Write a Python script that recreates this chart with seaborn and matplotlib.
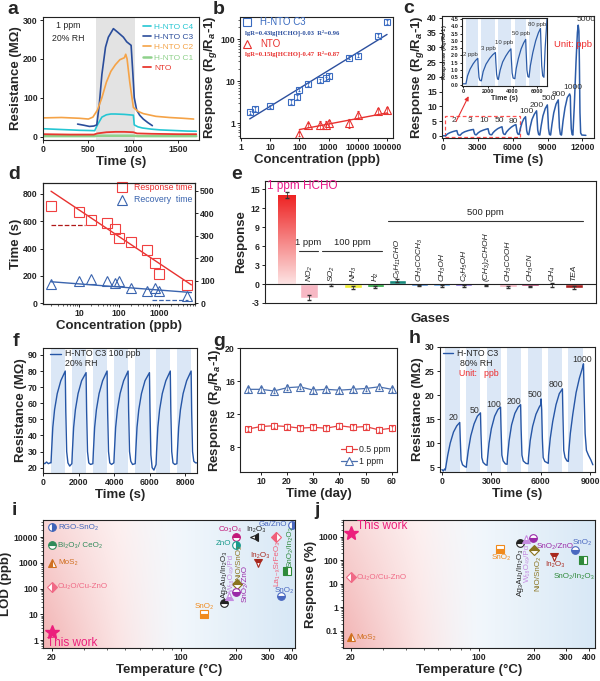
# -*- coding: utf-8 -*-

import numpy as np
import matplotlib
matplotlib.use("Agg")
import matplotlib.pyplot as plt
from matplotlib.colors import LinearSegmentedColormap
from matplotlib.patches import Rectangle
from matplotlib.ticker import FuncFormatter, NullFormatter, FixedLocator
import seaborn as sns

sns.set_theme(style="ticks")
plt.rcParams['font.family'] = ['Liberation Sans', 'DejaVu Sans']
plt.rcParams['font.weight'] = 'bold'
plt.rcParams['axes.labelweight'] = 'bold'
plt.rcParams['mathtext.fontset'] = 'custom'
plt.rcParams['mathtext.rm'] = 'Liberation Sans:bold'
plt.rcParams['mathtext.it'] = 'Liberation Sans:italic:bold'
plt.rcParams['mathtext.bf'] = 'Liberation Sans:bold'
plt.rcParams['axes.unicode_minus'] = False

## Data ##

# a: resistance of the samples, 1 ppm
a_c4_t = [0, 100, 200, 300, 400, 500, 570, 600, 650, 700, 750, 800, 900, 1000, 1010, 1050, 1100, 1200, 1300, 1400, 1500, 1600, 1700]
a_c4_r = [20, 19, 18, 17, 16, 15.5, 15, 30, 50, 56, 58, 58, 57, 55, 30, 25, 22, 19, 17, 16, 15, 14, 13.5]
a_c3_t = [380, 450, 511, 560, 593, 620, 650, 690, 722, 778, 830, 889, 926, 975, 995, 1010, 1037, 1070, 1110, 1160, 1211]
a_c3_r = [32, 29, 26, 27, 30, 80, 160, 230, 256, 278, 268, 256, 244, 235, 160, 100, 68, 55, 45, 36, 28]
a_c2_t = [0, 200, 400, 500, 550, 600, 650, 700, 750, 800, 850, 900, 915, 930, 960, 1000, 1050, 1110, 1250, 1400, 1550, 1670]
a_c2_r = [48, 49, 47, 45, 50, 68, 100, 140, 168, 185, 198, 203, 212, 200, 140, 75, 65, 59, 52, 49, 47, 45]
a_c1_t = [0, 570, 600, 1000, 1050, 1700]
a_c1_r = [1, 1, 2, 2, 1, 1]
a_nto_t = [0, 300, 560, 600, 700, 800, 900, 1000, 1040, 1200, 1500, 1700]
a_nto_r = [6, 5, 5, 8, 11, 12, 12, 11, 8, 7, 6, 6]

# b: response vs concentration
b_c3_conc = [2, 3, 10, 50, 80, 100, 200, 500, 800, 1000, 5000, 10000, 50000, 100000]
b_c3_resp = [1.8, 2.2, 2.5, 3.2, 4.3, 6.3, 8.6, 10.5, 11.8, 13.5, 37, 41, 122, 260]
b_c3_err = [0.15, 0.2, 0.2, 0.3, 0.5, 0.6, 0.7, 1.0, 1.2, 1.5, 3, 3, 10, 25]
b_nto_conc = [100, 200, 500, 800, 1000, 5000, 10000, 50000, 100000]
b_nto_resp = [0.54, 0.9, 0.92, 0.92, 1.0, 1.02, 1.6, 1.95, 2.1]
b_nto_err = [0.06, 0.1, 0.2, 0.2, 0.2, 0.25, 0.3, 0.3, 0.35]
b_fit_c3_x = [2, 100000]
b_fit_c3_y = [1.26, 132]
b_fit_nto_x = [100, 100000]
b_fit_nto_y = [0.7, 1.75]

# c: dynamic response, 2 ppb - 5000 ppb
c_time = [0, 100, 220, 350, 550, 800, 1000, 1180, 1220, 1280, 1350, 1470,
          1620, 1850, 2150, 2400, 2610, 2650, 2710, 2780, 2850,
          3000, 3200, 3450, 3680, 3870, 3910, 3970, 4050, 4190,
          4300, 4480, 4700, 4900, 5070, 5110, 5170, 5250, 5340,
          5450, 5650, 5880, 6100, 6270, 6310, 6370, 6450, 6550,
          6650, 6800, 6950, 7100, 7140, 7200, 7280, 7380,
          7500, 7650, 7850, 8050, 8090, 8150, 8230, 8330,
          8450, 8600, 8800, 8980, 9020, 9080, 9160, 9260,
          9380, 9530, 9730, 9920, 9960, 10020, 10100, 10200,
          10330, 10500, 10700, 10900, 10960, 10990, 11040, 11110, 11180,
          11300, 11450, 11570, 11640, 11700, 11740, 11790, 11850, 11950, 12300]
c_resp = [0.05, 0.05, 0.05, 0.6, 1.05, 1.42, 1.65, 1.8, 1.2, 0.5, 0.3, 0.25,
          0.9, 1.4, 1.8, 2.05, 2.2, 1.5, 0.7, 0.4, 0.35,
          1.0, 1.55, 1.95, 2.25, 2.45, 1.7, 0.8, 0.45, 0.4,
          1.1, 1.8, 2.45, 2.85, 3.1, 2.2, 1.0, 0.55, 0.5,
          1.3, 2.2, 3.0, 3.55, 3.85, 2.8, 1.3, 0.6, 0.5,
          2.5, 4.5, 5.8, 6.5, 4.5, 1.8, 0.6, 0.4,
          3.0, 5.5, 7.3, 8.5, 6.0, 2.0, 0.5, 0.3,
          3.5, 6.8, 9.3, 10.5, 7.5, 2.5, 0.5, 0.3,
          4.0, 7.8, 10.8, 12.2, 8.5, 2.8, 0.5, 0.3,
          5.0, 9.5, 13.0, 14.2, 13.5, 8.0, 2.5, 0.5, 0.3,
          10.0, 25.0, 35.0, 37.5, 35.5, 25.0, 8.0, 1.0, 0.3, 0.2]
c_labels = ['2', '3', '10', '50', '80', '100', '200', '500', '800', '1000', '5000']
c_inset_labels = ['2 ppb', '3 ppb', '10 ppb', '50 ppb', '80 ppb']
c_inset_shade = [(220, 1200), (1470, 2610), (2850, 3870), (4190, 5070), (5340, 6270)]

# d: response / recovery time
d_conc = [2, 10, 20, 50, 80, 100, 200, 500, 800, 1000, 5000]
d_resp_time = [713, 669, 608, 591, 544, 478, 445, 388, 298, 218, 132]
d_rec_time = [85, 101, 107, 100, 91, 101, 70, 55, 70, 55, 33]
d_fit_resp_x = [2, 6500]
d_fit_resp_y = [820, 135]
d_fit_rec_x = [2, 6500]
d_fit_rec_y = [96, 48]

# e: selectivity
e_gases = ['HCHO', 'NO₂', 'SO₂', 'NH₃', 'H₂', 'C₅H₁₁CHO', 'CH₃COCH₃', 'CH₃OH',
           'C₂H₅OH', '(CH₃)₂CHOH', 'CH₃COOH', 'CH₃CN', 'CH₄', 'TEA']
e_resp = [14.1, -2.2, -0.15, -0.55, -0.45, 0.6, -0.25, -0.3, -0.3, -0.2, -0.45, -0.35, -0.15, -0.55]
e_err = [0.5, 0.4, 0.1, 0.2, 0.2, 0.2, 0.1, 0.1, 0.1, 0.1, 0.1, 0.1, 0.3, 0.2]
e_colors = ['#f03030', '#f7b8c4', '#f59a3a', '#f0ee30', '#22a83a', '#168a7c', '#1e6fd0',
            '#3a8ee8', '#6040d0', '#8a3cc8', '#f7b8c4', '#a3124e', '#4a66cc', '#a82020']
e_groups = ['1 ppm', '100 ppm', '500 ppm']

# f: repeatability, 100 ppb
f_time = [0, 100, 200, 300, 400, 450, 480, 550, 650, 800, 1000, 1250, 1280, 1330, 1400, 1500, 1620,
          1650, 1720, 1820, 1970, 2170, 2420, 2450, 2500, 2570, 2670, 2800,
          2830, 2900, 3000, 3150, 3350, 3600, 3630, 3680, 3750, 3850, 3980,
          4010, 4080, 4180, 4330, 4530, 4780, 4810, 4860, 4930, 5030, 5180,
          5210, 5280, 5380, 5530, 5730, 5980, 6010, 6060, 6130, 6230, 6350,
          6380, 6450, 6550, 6700, 6900, 7150, 7180, 7230, 7300, 7400, 7520,
          7550, 7620, 7720, 7870, 8070, 8320, 8350, 8400, 8470, 8570, 8650]
f_res = [23, 22.5, 23.5, 22.5, 23, 23, 30, 45, 56, 66, 74, 80, 55, 30, 23, 21, 22.5,
         30, 45, 56, 66, 74, 79, 55, 30, 23, 22, 22.5,
         30, 45, 56, 66, 74, 80, 55, 30, 23, 22, 23,
         30, 45, 56, 66, 74, 80, 55, 30, 24, 22, 22.5,
         30, 45, 56, 66, 74, 79, 55, 28, 20, 18.5, 22,
         30, 45, 56, 66, 74, 80, 55, 30, 23, 22, 22.5,
         30, 45, 56, 66, 74, 80, 55, 30, 24, 23, 23]
f_shade = [(450, 1260), (1620, 2430), (2800, 3610), (3980, 4790), (5180, 5990), (6350, 7160), (7520, 8330)]

# g: long-term stability
g_days = [5, 10, 15, 20, 25, 30, 35, 40, 45, 50, 55, 60]
g_05 = [10.2, 10.5, 10.6, 10.5, 10.3, 10.4, 10.3, 10.6, 10.4, 10.5, 10.1, 10.3]
g_05_err = [0.3, 0.3, 0.3, 0.3, 0.3, 0.3, 0.3, 0.3, 0.3, 0.3, 0.3, 0.3]
g_1 = [15.0, 15.0, 14.8, 15.2, 15.3, 14.9, 15.0, 14.9, 15.0, 15.1, 15.3, 15.0]
g_1_err = [0.3, 0.3, 0.3, 0.3, 0.3, 0.3, 0.3, 0.3, 0.3, 0.3, 0.3, 0.3]

# h: 80% RH
h_time = [0, 80, 150, 200, 230, 350, 500, 700, 900, 1080, 1110, 1160, 1250, 1400, 1480,
          1500, 1600, 1750, 1950, 2150, 2340, 2370, 2420, 2500, 2650, 2740,
          2760, 2860, 3000, 3200, 3400, 3560, 3590, 3640, 3720, 3850, 3960,
          3980, 4080, 4230, 4430, 4630, 4780, 4810, 4860, 4940, 5100, 5240,
          5260, 5360, 5510, 5710, 5910, 6000, 6020, 6060, 6100, 6150, 6250, 6460,
          6480, 6580, 6730, 6930, 7130, 7320, 7350, 7400, 7480, 7600, 7680,
          7700, 7800, 7950, 8150, 8350, 8550, 8600, 8640, 8700, 8780, 8900, 9050, 9170]
h_res = [4.5, 4.2, 4.6, 4.4, 5.0, 7.5, 10.0, 12.3, 13.6, 14.3, 11.0, 6.5, 5.5, 5.1, 5.0,
         5.8, 8.5, 11.5, 14.0, 15.6, 16.3, 12.0, 7.0, 6.0, 5.5, 5.4,
         6.5, 10.0, 13.0, 15.6, 17.0, 17.5, 13.0, 7.5, 6.3, 5.7, 5.6,
         7.0, 10.5, 13.8, 16.2, 17.5, 18.0, 13.0, 7.5, 6.3, 5.8, 5.7,
         7.0, 10.5, 13.5, 16.0, 17.5, 18.0, 19.2, 17.0, 11.0, 7.0, 6.2, 5.8,
         7.5, 11.0, 14.5, 18.0, 20.3, 21.3, 16.0, 8.5, 7.0, 6.3, 6.2,
         8.0, 12.0, 16.0, 20.5, 23.5, 25.8, 26.5, 20.0, 12.0, 8.5, 7.5, 6.5, 5.5]
h_shade = [(200, 1080), (1480, 2340), (2740, 3560), (3960, 4780), (5240, 6060), (6460, 7320), (7680, 8600)]
h_labels = ['20', '50', '100', '200', '500', '800', '1000']

# i: LOD comparison
i_names = ['RGO-SnO₂', 'Bi₂O₃/ CeO₂', 'MoS₂', 'Cu₂O/Cu-ZnO', 'SnO₂', 'Ag₃Au₁/In₂O₃', 'W₁₈O₄₉/Pd',
           'NiO/SnO₂', 'SnO₂/ZnO', 'Co₃O₄', 'ZnO', 'In₂O₃', 'In₂O₃', 'La₁₋ₓSrFeO₃', 'Ga/ZnO',
           'SnO₂/In₂O₃', 'SnO₂']
i_temp = [20, 20, 20, 20, 134, 172, 183, 203, 200, 200, 200, 249, 264, 329, 400, 378, 348]
i_lod = [24500, 5000, 1000, 120, 10, 27, 52, 148, 75, 10000, 5000, 10000, 980, 10000, 30000, 500, 52]
i_this = (20, 2.1)

# j: response comparison
j_names = ['Cu₂O/Cu-ZnO', 'MoS₂', 'SnO₂', 'Ag₃Au₁/In₂O₃', 'W₁₈O₄₉/Pd', 'SnO₂/ZnO', 'NiO/SnO₂',
           'In₂O₃', 'SnO₂', 'SnO₂/In₂O₃']
j_temp = [20, 20, 131, 168, 181, 198, 200, 257, 334, 369]
j_resp = [19, 0.054, 300, 520, 780, 850, 260, 142, 260, 103]
j_this = (20, 1400)

## Styles ##

BLUE = '#2c4f9e'
RED = '#e8312f'
SHADE = '#dbe7f6'
mat_style = {
    'RGO-SnO₂': ('o', 'right', '#3f63b8'),
    'Bi₂O₃/ CeO₂': ('o', 'top', '#2f8a5a'),
    'MoS₂': ('^', 'left', '#d07020'),
    'Cu₂O/Cu-ZnO': ('D', 'right', '#f06a86'),
    'SnO₂|o': ('s', 'bottom', '#f08a1c'),
    'Ag₃Au₁/In₂O₃': ('o', 'top', '#222222'),
    'W₁₈O₄₉/Pd': ('^', 'bottom', '#c58be0'),
    'NiO/SnO₂': ('D', 'top', '#8a7420'),
    'SnO₂/ZnO': ('o', 'bottom', '#9a2aa8'),
    'Co₃O₄': ('o', 'top', '#c2187a'),
    'ZnO': ('o', 'right', '#1a9a8c'),
    'In₂O₃|k': ('<', 'right', '#222222'),
    'In₂O₃|r': ('v', 'top', '#a8281e'),
    'La₁₋ₓSrFeO₃': ('D', 'left', '#f0607a'),
    'Ga/ZnO': ('o', 'right', '#4a68c0'),
    'SnO₂/In₂O₃': ('s', 'left', '#2f8a3a'),
    'SnO₂|b': ('o', 'bottom', '#4a68c0'),
}
i_keys = ['RGO-SnO₂', 'Bi₂O₃/ CeO₂', 'MoS₂', 'Cu₂O/Cu-ZnO', 'SnO₂|o', 'Ag₃Au₁/In₂O₃', 'W₁₈O₄₉/Pd',
          'NiO/SnO₂', 'SnO₂/ZnO', 'Co₃O₄', 'ZnO', 'In₂O₃|k', 'In₂O₃|r', 'La₁₋ₓSrFeO₃', 'Ga/ZnO',
          'SnO₂/In₂O₃', 'SnO₂|b']
# label offsets in pixels: dx, dy, rotation, ha, va
i_lab = [(6, 0, 0, 'left', 'center'), (6, 0, 0, 'left', 'center'), (6, 0, 0, 'left', 'center'),
         (6, 0, 0, 'left', 'center'), (0, 4, 0, 'center', 'bottom'), (0, 5, 90, 'center', 'bottom'),
         (2, 4, 90, 'center', 'bottom'), (1, 4, 90, 'center', 'bottom'), (9, 8, 90, 'center', 'center'),
         (-6, 4, 0, 'center', 'bottom'), (-5, 2, 0, 'right', 'center'), (2, 4, 0, 'center', 'bottom'),
         (2, 4, 0, 'center', 'bottom'), (1, -3, 90, 'center', 'top'), (-5, 1, 0, 'right', 'center'),
         (3, 4, 90, 'center', 'bottom'), (4, 2, 0, 'center', 'bottom')]
j_keys = ['Cu₂O/Cu-ZnO', 'MoS₂', 'SnO₂|o', 'Ag₃Au₁/In₂O₃', 'W₁₈O₄₉/Pd', 'SnO₂/ZnO', 'NiO/SnO₂',
          'In₂O₃|r', 'SnO₂|b', 'SnO₂/In₂O₃']
j_lab = [(6, 0, 0, 'left', 'center'), (6, 0, 0, 'left', 'center'), (1, -5, 0, 'center', 'top'),
         (0, -5, 90, 'center', 'top'), (1, -5, 90, 'center', 'top'), (3, -8, 0, 'left', 'center'),
         (4, -5, 90, 'center', 'top'), (1, -4, 0, 'center', 'top'), (7, 4, 0, 'center', 'bottom'),
         (-9, -13, 0, 'center', 'top')]

## Figure ##

W, H = 600, 681
fig = plt.figure(figsize=(W / 100, H / 100), dpi=100)


def add_ax(x0, y0, x1, y1, **kw):
    return fig.add_axes([x0 / W, 1 - y1 / H, (x1 - x0) / W, (y1 - y0) / H], **kw)


def style(ax, ts=6.3):
    for s in ax.spines.values():
        s.set_visible(True)
        s.set_linewidth(0.8)
        s.set_color('#222222')
    ax.tick_params(which='major', direction='out', length=2.5, width=0.7, labelsize=ts, pad=1.2, color='#222222')
    ax.tick_params(which='minor', direction='out', length=1.5, width=0.5, color='#222222')


def labels(ax, xl, yl, fs=9.5):
    ax.set_xlabel(xl, fontsize=fs, labelpad=1)
    ax.set_ylabel(yl, fontsize=fs, labelpad=1)


def letter(x, y, s):
    fig.text(x / W, 1 - y / H, s, fontsize=14, fontweight='bold', va='top', ha='left')


fmt_g = FuncFormatter(lambda v, p: f"{v:g}")
RESP = 'Response (R$_g$/R$_a$-1)'

# ---- a ----
ax = add_ax(43, 17, 199, 140)
ax.axvspan(580, 1015, color='#e3e3e3', lw=0, zorder=0)
a_series = [('H-NTO C4', a_c4_t, a_c4_r, '#25c6d3', 1.2), ('H-NTO C3', a_c3_t, a_c3_r, '#2a4d9b', 1.2),
            ('H-NTO C2', a_c2_t, a_c2_r, '#f5a347', 1.2), ('H-NTO C1', a_c1_t, a_c1_r, '#8fd18b', 1.8),
            ('NTO', a_nto_t, a_nto_r, '#e8382f', 1.3)]
for name, t, r, col, lw in a_series:
    sns.lineplot(x=t, y=r, ax=ax, color=col, lw=lw, sort=False, estimator=None, label=name)
leg = ax.legend(loc='upper right', frameon=False, prop={'size': 6, 'weight': 'normal'}, handlelength=1.0,
                handletextpad=0.3, labelspacing=0.3, borderaxespad=0.3)
for txt, s in zip(leg.get_texts(), a_series):
    txt.set_color(s[3])
ax.set_xlim(-5, 1730)
ax.set_ylim(-9, 308)
ax.set_xticks([0, 500, 1000, 1500])
ax.set_yticks([0, 100, 200, 300])
ax.text(0.16, 0.97, '1 ppm\n20% RH', transform=ax.transAxes, ha='center', va='top', fontsize=6.3,
        fontweight='normal', linespacing=1.6)
style(ax)
labels(ax, 'Time (s)', 'Resistance (MΩ)')

# ---- b ----
ax = add_ax(240, 17, 393, 138)
ax.set_xscale('log')
ax.set_yscale('log')
sns.lineplot(x=b_fit_c3_x, y=b_fit_c3_y, ax=ax, color=BLUE, lw=1.0)
sns.lineplot(x=b_fit_nto_x, y=b_fit_nto_y, ax=ax, color=RED, lw=1.0)
ax.errorbar(b_c3_conc, b_c3_resp, yerr=b_c3_err, fmt='s', mfc='none', mec='#3a6bc0', ecolor='#3a6bc0',
            ms=5, mew=0.8, elinewidth=0.5, capsize=1)
ax.errorbar(b_nto_conc, b_nto_resp, yerr=b_nto_err, fmt='^', mfc='none', mec=RED, ecolor=RED,
            ms=5.5, mew=0.8, elinewidth=0.5, capsize=1)
ax.set_xlim(0.93, 160000)
ax.set_ylim(0.44, 345)
ax.set_xticks([1, 10, 100, 1000, 10000, 100000])
ax.xaxis.set_major_formatter(fmt_g)
ax.yaxis.set_major_formatter(fmt_g)
ax.xaxis.set_minor_formatter(NullFormatter())
ax.yaxis.set_minor_formatter(NullFormatter())
ax.plot([0.046], [0.955], 's', mfc='none', mec='#3a6bc0', ms=6, mew=0.8, transform=ax.transAxes)
ax.text(0.13, 0.955, 'H-NTO C3', transform=ax.transAxes, color='#3a6bc0', fontsize=7, fontweight='normal', va='center')
ax.text(0.03, 0.87, 'lgR=0.43lg[HCHO]-0.03  R²=0.96', transform=ax.transAxes, color=BLUE, fontsize=4.8,
        family='Liberation Serif', fontweight='bold', va='center')
ax.plot([0.046], [0.78], '^', mfc='none', mec=RED, ms=6, mew=0.8, transform=ax.transAxes)
ax.text(0.13, 0.78, 'NTO', transform=ax.transAxes, color=RED, fontsize=7, fontweight='normal', va='center')
ax.text(0.03, 0.695, 'lgR=0.15lg[HCHO]-0.47  R²=0.87', transform=ax.transAxes, color=RED, fontsize=4.8,
        family='Liberation Serif', fontweight='bold', va='center')
style(ax)
labels(ax, 'Concentration (ppb)', RESP)

# ---- c ----
ax = add_ax(442, 16, 594, 138)
sns.lineplot(x=c_time, y=c_resp, ax=ax, color='#2c5ca8', lw=1.1, sort=False, estimator=None)
ax.set_xlim(-100, 13000)
ax.set_ylim(-0.7, 40.6)
ax.set_xticks([0, 3000, 6000, 9000, 12000])
ax.set_yticks([0, 5, 10, 15, 20, 25, 30, 35, 40])
ax.add_patch(Rectangle((170, -0.45), 6410, 7.25, fill=False, ec='#ff5050', ls=(0, (3, 2)), lw=0.9))
ax.annotate('', xy=(2300, 14.3), xytext=(1000, 4.0),
            arrowprops=dict(arrowstyle='-|>', color='#e83030', lw=0.8, mutation_scale=6))
c_lab_pos = [(940, 5.2), (2280, 5.2), (3500, 5.2), (4840, 5.2), (6070, 5.0), (7150, 8.2), (8060, 10.4),
             (9060, 12.6), (9970, 14.1), (11200, 16.3), (12340, 39.5)]
for lab, (x, y) in zip(c_labels, c_lab_pos):
    ax.text(x, y, lab, ha='center', va='center', fontsize=6, fontweight='normal', color='#333333')
ax.text(0.86, 0.77, 'Unit: ppb', transform=ax.transAxes, ha='center', va='center', color='#ee2a2a',
        fontsize=6.8, fontweight='normal')
style(ax)
labels(ax, 'Time (s)', RESP)

axi = add_ax(462, 18, 547, 86)
for s0, s1 in c_inset_shade:
    axi.axvspan(s0, s1, color=SHADE, lw=0, zorder=0)
sns.lineplot(x=c_time, y=c_resp, ax=axi, color='#2c5ca8', lw=0.9, sort=False, estimator=None)
axi.set_xlim(-100, 6800)
axi.set_ylim(-0.1, 4.57)
axi.set_xticks([0, 2000, 4000, 6000])
axi.set_yticks([0, 0.5, 1, 1.5, 2, 2.5, 3, 3.5, 4, 4.5])
axi.yaxis.set_major_formatter(FuncFormatter(lambda v, p: f"{v:.1f}"))
c_in_pos = [(590, 2.05), (2050, 2.5), (3330, 2.9), (4670, 3.5), (6000, 4.1)]
for lab, (x, y) in zip(c_inset_labels, c_in_pos):
    axi.text(x, y, lab, ha='center', va='center', fontsize=4.3, fontweight='normal', color='#333333')
style(axi, ts=4)
axi.tick_params(length=1.5, pad=0.8)
axi.set_xlabel('Time (s)', fontsize=5, labelpad=0.5)
axi.set_ylabel(RESP, fontsize=4.2, labelpad=0.3)

# ---- d ----
ax = add_ax(43, 183, 195, 304)
ax.set_xscale('log')
ax2 = ax.twinx()
sns.lineplot(x=d_fit_resp_x, y=d_fit_resp_y, ax=ax, color=RED, lw=1.0)
ax.plot(d_conc, d_resp_time, 's', mfc='none', mec='#f04040', ms=6.5, mew=0.8)
ax.plot([2, 14], [575, 575], ls='--', color='#b01818', lw=0.9)
sns.lineplot(x=d_fit_rec_x, y=d_fit_rec_y, ax=ax2, color='#3a64ae', lw=1.0)
ax2.plot(d_conc, d_rec_time, '^', mfc='none', mec='#3a64ae', ms=7, mew=0.8)
ax2.plot([660, 5400], [15, 15], ls='--', color='#3a64ae', lw=0.9)
ax.set_xlim(1.26, 8000)
ax.set_ylim(-5, 880)
ax2.set_ylim(-3, 535)
ax.set_yticks([0, 200, 400, 600, 800])
ax2.set_yticks([0, 100, 200, 300, 400, 500])
ax.set_xticks([10, 100, 1000])
ax.xaxis.set_major_formatter(fmt_g)
ax.xaxis.set_minor_formatter(NullFormatter())
ax.plot([0.52], [0.965], 's', mfc='none', mec='#f04040', ms=6.5, mew=0.8, transform=ax.transAxes, clip_on=False)
ax.text(0.6, 0.965, 'Response time', transform=ax.transAxes, color='#e83030', fontsize=6.3,
        fontweight='normal', va='center')
ax.plot([0.52], [0.86], '^', mfc='none', mec='#3a64ae', ms=7, mew=0.8, transform=ax.transAxes)
ax.text(0.6, 0.86, 'Recovery  time', transform=ax.transAxes, color='#3a64ae', fontsize=6.3,
        fontweight='normal', va='center')
style(ax)
style(ax2)
labels(ax, 'Concentration (ppb)', 'Time (s)')

# ---- e ----
ax = add_ax(265, 181, 596, 303)
sns.barplot(x=e_gases, y=e_resp, hue=e_gases, palette=dict(zip(e_gases, e_colors)), legend=False,
            ax=ax, width=0.8, saturation=1, errorbar=None)
bar0 = ax.patches[0]
grad = np.linspace(0, 1, 256).reshape(-1, 1)
cmap = LinearSegmentedColormap.from_list('hcho', ['#fde4e4', '#ee2020'])
im = ax.imshow(grad, extent=[bar0.get_x(), bar0.get_x() + bar0.get_width(), 0, bar0.get_height()],
               origin='lower', cmap=cmap, aspect='auto', zorder=bar0.get_zorder())
im.set_clip_path(bar0)
bar0.set_facecolor('none')
ax.errorbar(range(len(e_gases)), e_resp, yerr=e_err, fmt='none', ecolor='#333333', elinewidth=0.6, capsize=1.3)
ax.axhline(0, color='#222222', lw=0.8)
for i, g in enumerate(e_gases[1:], start=1):
    y0 = 0.9 if e_resp[i] > 0 else 0.45
    ax.text(i, y0, g, rotation=90, ha='center', va='bottom', fontsize=6, style='italic',
            fontweight='normal', color='#222222')
e_group_lines = [(0.55, 1.4, 5.2), (1.6, 4.3, 5.2), (4.57, 13.4, 10.0)]
for lab, (x0, x1, y) in zip(e_groups, e_group_lines):
    ax.plot([x0, x1], [y, y], color='#333333', lw=0.8)
    ax.text((x0 + x1) / 2, y + 0.6, lab, ha='center', va='bottom', fontsize=6.8, fontweight='normal',
            color='#222222')
ax.text(0.005, 0.96, '1 ppm HCHO', transform=ax.transAxes, ha='left', va='center', fontsize=8.5,
        fontweight='normal', color='#e8178a', clip_on=False)
ax.set_xlim(-1, 14)
ax.set_ylim(-3, 16.3)
ax.set_yticks([-3, 0, 3, 6, 9, 12, 15])
ax.set_xticks([])
style(ax)
ax.set_xlabel('Gases', fontsize=9.5, labelpad=7)
ax.set_ylabel('Response', fontsize=9.5, labelpad=2)

# ---- f ----
ax = add_ax(43, 348, 197, 473)
for s0, s1 in f_shade:
    ax.axvspan(s0, s1, color=SHADE, lw=0, zorder=0)
sns.lineplot(x=f_time, y=f_res, ax=ax, color='#2656a6', lw=1.0, sort=False, estimator=None)
ax.set_xlim(0, 8650)
ax.set_ylim(16.7, 94.3)
ax.set_xticks([0, 2000, 4000, 6000, 8000])
ax.set_yticks([20, 30, 40, 50, 60, 70, 80, 90])
ax.plot([0.045, 0.12], [0.955, 0.955], color='#2656a6', lw=1.0, transform=ax.transAxes)
ax.text(0.14, 0.955, 'H-NTO C3 100 ppb', transform=ax.transAxes, fontsize=6.3, fontweight='normal', va='center')
ax.text(0.14, 0.875, '20% RH', transform=ax.transAxes, fontsize=6.3, fontweight='normal', va='center')
style(ax)
labels(ax, 'Time (s)', 'Resistance (MΩ)')

# ---- g ----
ax = add_ax(240, 348, 397, 472)
sns.lineplot(x=g_days, y=g_05, ax=ax, color='#e84040', lw=0.9, marker='s', markersize=5,
             markerfacecolor='white', markeredgecolor='#e84040', markeredgewidth=0.8, label='0.5 ppm')
sns.lineplot(x=g_days, y=g_1, ax=ax, color='#4a6fae', lw=0.9, marker='^', markersize=5.5,
             markerfacecolor='white', markeredgecolor='#4a6fae', markeredgewidth=0.8, label='1 ppm')
ax.errorbar(g_days, g_05, yerr=g_05_err, fmt='none', ecolor='#e84040', elinewidth=0.5, capsize=1)
ax.errorbar(g_days, g_1, yerr=g_1_err, fmt='none', ecolor='#4a6fae', elinewidth=0.5, capsize=1)
ax.legend(loc='lower right', frameon=False, prop={'size': 6.3, 'weight': 'normal'}, handlelength=1.8,
          handletextpad=0.3, labelspacing=0.3, borderaxespad=0.3)
ax.set_xlim(2, 62)
ax.set_ylim(5, 20)
ax.set_xticks([10, 20, 30, 40, 50, 60])
ax.set_yticks([8, 12, 16, 20])
style(ax)
labels(ax, 'Time (day)', RESP)

# ---- h ----
ax = add_ax(440, 347, 595, 472)
for s0, s1 in h_shade:
    ax.axvspan(s0, s1, color=SHADE, lw=0, zorder=0)
sns.lineplot(x=h_time, y=h_res, ax=ax, color='#2656a6', lw=1.0, sort=False, estimator=None)
h_lab_pos = [(690, 15.3), (1950, 16.8), (3150, 18.0), (4390, 18.7), (5650, 20.2), (6910, 22.3), (8520, 27.3)]
for lab, (x, y) in zip(h_labels, h_lab_pos):
    ax.text(x, y, lab, ha='center', va='center', fontsize=6.3, fontweight='normal', color='#333333')
ax.set_xlim(-120, 9300)
ax.set_ylim(4, 30)
ax.set_xticks([0, 3000, 6000, 9000])
ax.set_yticks([5, 10, 15, 20, 25, 30])
ax.plot([0.02, 0.085], [0.95, 0.95], color='#2656a6', lw=1.0, transform=ax.transAxes)
ax.text(0.11, 0.95, 'H-NTO C3', transform=ax.transAxes, fontsize=6.3, fontweight='normal', va='center')
ax.text(0.13, 0.87, '80% RH', transform=ax.transAxes, fontsize=6.3, fontweight='normal', va='center')
ax.text(0.12, 0.79, 'Unit:   ppb', transform=ax.transAxes, fontsize=6.3, fontweight='normal', va='center',
        color='#ee2a2a')
style(ax)
labels(ax, 'Time (s)', 'Resistance (MΩ)')


# ---- i, j ----
def background(box):
    bg = add_ax(*box)
    nx, ny = 240, 120
    u, v = np.meshgrid(np.linspace(0, 1, nx), np.linspace(0, 1, ny))
    pink = np.clip(1 - u / 0.55, 0, 1) ** 1.3 * (0.55 + 0.45 * (1 - v))
    blue = np.clip((u - 0.3) / 0.7, 0, 1) * 0.9
    white = np.array([1.0, 1.0, 1.0])
    pc = np.array([0.95, 0.70, 0.70])
    bc = np.array([0.83, 0.90, 0.96])
    img = white - pink[..., None] * (white - pc) - blue[..., None] * (white - bc)
    bg.imshow(np.clip(img, 0, 1), extent=(0, 1, 0, 1), origin='lower', aspect='auto')
    bg.set_axis_off()
    ax = add_ax(*box)
    ax.set_facecolor('none')
    return ax


def materials(ax, keys, names, temps, vals, labs, this, this_off):
    for k, n, t, v, (dx, dy, rot, ha, va) in zip(keys, names, temps, vals, labs):
        mk, fs, col = mat_style[k]
        ax.plot([t], [v], marker=mk, fillstyle=fs, color=col, mec=col, mfc=col, markerfacecoloralt='white',
                ms=5.5, mew=0.8, ls='none')
        ax.annotate(n, (t, v), xytext=(dx, dy), textcoords='offset pixels', rotation=rot, ha=ha, va=va,
                    fontsize=5.8, fontweight='normal', color=col)
    ax.plot([this[0]], [this[1]], marker='*', color='#ec1f7c', ms=10, ls='none')
    ax.annotate('This work', this, xytext=this_off, textcoords='offset pixels', ha='left', va='center',
                fontsize=8.5, fontweight='normal', color='#ec1f7c')


ax = background((43, 520, 295, 648))
ax.set_xscale('log')
ax.set_yscale('log')
materials(ax, i_keys, i_names, i_temp, i_lod, i_lab, i_this, (-5, -11))
ax.set_xlim(17.9, 417)
ax.set_ylim(0.49, 47000)
ax.xaxis.set_major_locator(FixedLocator([20, 100, 200, 300, 400]))
ax.xaxis.set_major_formatter(fmt_g)
ax.xaxis.set_minor_formatter(NullFormatter())
ax.set_yticks([1, 10, 100, 1000, 10000])
ax.yaxis.set_major_formatter(fmt_g)
ax.yaxis.set_minor_formatter(NullFormatter())
style(ax)
labels(ax, 'Temperature (°C)', 'LOD (ppb)')

ax = background((343, 520, 595, 648))
ax.set_xscale('log')
ax.set_yscale('log')
materials(ax, j_keys, j_names, j_temp, j_resp, j_lab, j_this, (6, 7))
ax.set_xlim(18.2, 430)
ax.set_ylim(0.019, 5100)
ax.xaxis.set_major_locator(FixedLocator([20, 100, 200, 300, 400]))
ax.xaxis.set_major_formatter(fmt_g)
ax.xaxis.set_minor_formatter(NullFormatter())
ax.set_yticks([0.1, 1, 10, 100, 1000])
ax.yaxis.set_major_formatter(fmt_g)
ax.yaxis.set_minor_formatter(NullFormatter())
style(ax)
labels(ax, 'Temperature (°C)', 'Response (%)')

## Panel letters ##
letter(7, 1, 'a')
letter(213, 1, 'b')
letter(403, 0, 'c')
letter(8, 166, 'd')
letter(231, 166, 'e')
letter(13, 333, 'f')
letter(213, 333, 'g')
letter(409, 330, 'h')
letter(12, 502, 'i')
letter(314, 502, 'j')

fig.savefig('out.png', dpi=100)
